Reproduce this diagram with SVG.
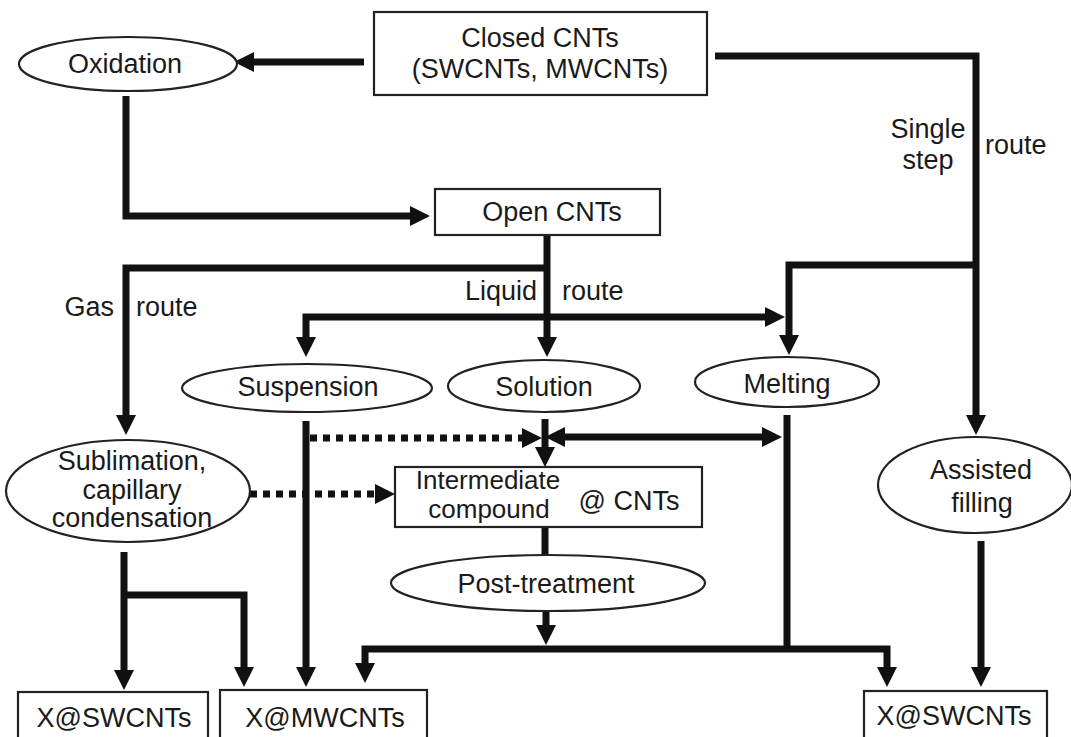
<svg xmlns="http://www.w3.org/2000/svg" width="1071" height="737" viewBox="0 0 1071 737">
<style>
.box{fill:#fff;stroke:#222;stroke-width:2.2}
.t{font-family:"Liberation Sans",Arial,Helvetica,sans-serif;font-size:27px;fill:#1a1a1a;text-anchor:middle}
.sm{font-size:26px}
.s{text-anchor:start}
.e{text-anchor:end}
.c{fill:none;stroke:#111;stroke-width:7;stroke-linejoin:miter}
.d{stroke-dasharray:7 6}
</style>
<defs>
<marker id="ah" viewBox="0 0 20 20" refX="10" refY="10" markerWidth="20" markerHeight="20" markerUnits="userSpaceOnUse" orient="auto-start-reverse">
<path d="M0,0 L20,10 L0,20 z" fill="#111"/>
</marker>
</defs>
<rect width="1071" height="737" fill="#fff"/>
<g id="connectors">
<path class="c" d="M364,62 H244" marker-end="url(#ah)"/>
<path class="c" d="M126,96 V216 H420" marker-end="url(#ah)"/>
<path class="c" d="M715,56 H976 V425" marker-end="url(#ah)"/>
<path class="c" d="M979,265 H789 V345" marker-end="url(#ah)"/>
<path class="c" d="M547,235 V347" marker-end="url(#ah)"/>
<path class="c" d="M547,268 H126 V425" marker-end="url(#ah)"/>
<path class="c" d="M547,317 H306 V347" marker-end="url(#ah)"/>
<path class="c" d="M547,317 H775" marker-end="url(#ah)"/>
<path class="c" d="M306,421 V677" marker-end="url(#ah)"/>
<path class="c d" d="M310,438 H532" marker-end="url(#ah)"/>
<path class="c" d="M545,419 V457" marker-end="url(#ah)"/>
<path class="c" d="M555,437 H772" marker-start="url(#ah)" marker-end="url(#ah)"/>
<path class="c" d="M787,415 V649"/>
<path class="c d" d="M250,494 H385" marker-end="url(#ah)"/>
<path class="c" d="M545,527 V555"/>
<path class="c" d="M546,612 V635" marker-end="url(#ah)"/>
<path class="c" d="M365,673 V649 H887 V677" marker-start="url(#ah)" marker-end="url(#ah)"/>
<path class="c" d="M124,552 V680" marker-end="url(#ah)"/>
<path class="c" d="M124,595 H244 V677" marker-end="url(#ah)"/>
<path class="c" d="M981,541 V677" marker-end="url(#ah)"/>
</g>
<g id="closed-cnts">
<rect class="box" x="374" y="12" width="333" height="83"/>
<text class="t" x="540" y="47">Closed CNTs</text>
<text class="t" x="540" y="78">(SWCNTs, MWCNTs)</text>
</g>
<g id="oxidation">
<ellipse class="box" cx="128" cy="64" rx="109" ry="27"/>
<text class="t" x="125" y="73">Oxidation</text>
</g>
<g id="open-cnts">
<rect class="box" x="435" y="189" width="225" height="46"/>
<text class="t" x="552" y="221">Open CNTs</text>
</g>
<g id="suspension">
<ellipse class="box" cx="307" cy="388" rx="125" ry="24"/>
<text class="t" x="308" y="396">Suspension</text>
</g>
<g id="solution">
<ellipse class="box" cx="544" cy="386" rx="96" ry="26"/>
<text class="t" x="544" y="396">Solution</text>
</g>
<g id="melting">
<ellipse class="box" cx="787" cy="382" rx="92" ry="25"/>
<text class="t" x="787" y="393">Melting</text>
</g>
<g id="sublimation">
<ellipse class="box" cx="128" cy="491" rx="122" ry="51"/>
<text class="t" x="132" y="470">Sublimation,</text>
<text class="t" x="132" y="499">capillary</text>
<text class="t" x="132" y="527">condensation</text>
</g>
<g id="intermediate">
<rect class="box" x="395" y="467" width="307" height="60"/>
<text class="t sm" x="488" y="489">Intermediate</text>
<text class="t sm" x="489" y="518">compound</text>
<text class="t" x="629" y="510">@ CNTs</text>
</g>
<g id="post-treatment">
<ellipse class="box" cx="548" cy="583" rx="157" ry="28"/>
<text class="t" x="546" y="593">Post-treatment</text>
</g>
<g id="assisted-filling">
<ellipse class="box" cx="975" cy="485" rx="97" ry="48"/>
<text class="t" x="981" y="479">Assisted</text>
<text class="t" x="982" y="512">filling</text>
</g>
<g id="x-swcnts-left">
<rect class="box" x="18" y="692" width="190" height="60"/>
<text class="t" x="114" y="727">X@SWCNTs</text>
</g>
<g id="x-mwcnts">
<rect class="box" x="220" y="690" width="207" height="60"/>
<text class="t" x="325" y="727">X@MWCNTs</text>
</g>
<g id="x-swcnts-right">
<rect class="box" x="864" y="691" width="183" height="60"/>
<text class="t" x="954" y="725">X@SWCNTs</text>
</g>
<g id="labels">
<text class="t e" x="114" y="316">Gas</text>
<text class="t s" x="136" y="316">route</text>
<text class="t e" x="537" y="300">Liquid</text>
<text class="t s" x="562" y="300">route</text>
<text class="t" x="928" y="138">Single</text>
<text class="t" x="928" y="169">step</text>
<text class="t s" x="985" y="154">route</text>
</g>
</svg>
